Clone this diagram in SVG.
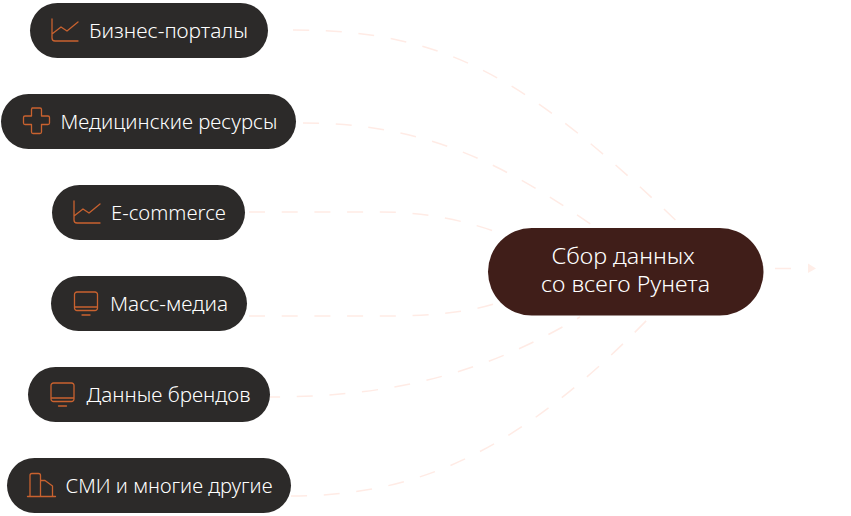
<svg xmlns="http://www.w3.org/2000/svg" width="851" height="516" viewBox="0 0 851 516">
<style>
text{font-family:"Noto Sans","Open Sans",sans-serif;font-weight:300;font-size:20px;fill:#fff}
.hubt{font-size:21px}
.pill{fill:#2c2a29}
.hub{fill:#401e19}
.ic{fill:none;stroke:#c9622f;stroke-width:1.300;stroke-linejoin:round;stroke-linecap:round}
.c{fill:none;stroke:#ffebe5;stroke-width:1.500;stroke-dasharray:16 16.700}
</style>
<defs>
<g id="chart"><path class="ic" d="M0 0V19a3 3 0 0 0 3 3H26M0 15L9 8L15 12L26 3"/></g>
<g id="screen"><path class="ic" d="M3 0H21a2.500 2.500 0 0 1 2.500 2.500V16a2.500 2.500 0 0 1-2.500 2.500H3A2.500 2.500 0 0 1 .5 16V2.500A2.500 2.500 0 0 1 3 0ZM.5 15H23.500M8 23H16"/></g>
</defs>
<g id="connectors">
<path class="c" d="M293 30C450 30 530 80 688 232"/>
<path class="c" d="M303 123C420 123 500 160 596 228"/>
<path class="c" d="M249 212H380C430 212 470 222 505 235"/>
<path class="c" d="M249 316H390C430 316 470 312 497 303"/>
<path class="c" d="M270 397C400 397 490 370 580 317" stroke-dashoffset="6"/>
<path class="c" d="M291 496C420 496 520 450 648 319"/>
<path class="c" d="M775 268.500H792"/>
<path d="M808 263.500L816 268.500L808 273Z" fill="#ffeee8"/>
</g>
<g id="node-1"><rect class="pill" x="30" y="3" width="238" height="55" rx="27.500"/><use href="#chart" x="52" y="19"/><text x="89" y="38" textLength="159" lengthAdjust="spacingAndGlyphs">Бизнес-порталы</text></g>
<g id="node-2"><rect class="pill" x="1" y="94" width="295" height="55" rx="27.500"/><path class="ic" d="M32 108H40a1.500 1.500 0 0 1 1.500 1.500V116H48a1.500 1.500 0 0 1 1.500 1.500V123a1.500 1.500 0 0 1-1.500 1.500H41.500V132a1.500 1.500 0 0 1-1.500 1.500H33a1.500 1.500 0 0 1-1.500-1.500V124.500H25A1.500 1.500 0 0 1 23.500 123V117.500A1.500 1.500 0 0 1 25 116H31.500V109.500Z"/><text x="60.500" y="129" textLength="217" lengthAdjust="spacingAndGlyphs">Медицинские ресурсы</text></g>
<g id="node-3"><rect class="pill" x="52" y="185" width="193" height="55" rx="27.500"/><use href="#chart" x="74" y="201"/><text x="111" y="220" textLength="115" lengthAdjust="spacingAndGlyphs">E-commerce</text></g>
<g id="node-4"><rect class="pill" x="51" y="276" width="196" height="55" rx="27.500"/><use href="#screen" x="74" y="292"/><text x="110" y="311" textLength="118" lengthAdjust="spacingAndGlyphs">Масс-медиа</text></g>
<g id="node-5"><rect class="pill" x="28" y="367" width="242" height="55" rx="27.500"/><use href="#screen" x="50.500" y="383"/><text x="86.500" y="402" textLength="164" lengthAdjust="spacingAndGlyphs">Данные брендов</text></g>
<g id="node-6"><rect class="pill" x="7" y="458" width="284" height="55" rx="27.500"/><path class="ic" d="M27.500 496.500H55.500M30 496.500V475.500a2 2 0 0 1 2-2H38.500a2 2 0 0 1 2 2V496.500M41 480.500H45L52.500 486V496.500"/><text x="65.500" y="493" textLength="207" lengthAdjust="spacingAndGlyphs">СМИ и многие другие</text></g>
<g id="hub"><rect class="hub" x="488" y="228" width="275.500" height="87.500" rx="43.750"/><text class="hubt" x="551.500" y="264" textLength="143" lengthAdjust="spacingAndGlyphs">Сбор данных</text><text class="hubt" x="541" y="292" textLength="169" lengthAdjust="spacingAndGlyphs">со всего Рунета</text></g>
</svg>
